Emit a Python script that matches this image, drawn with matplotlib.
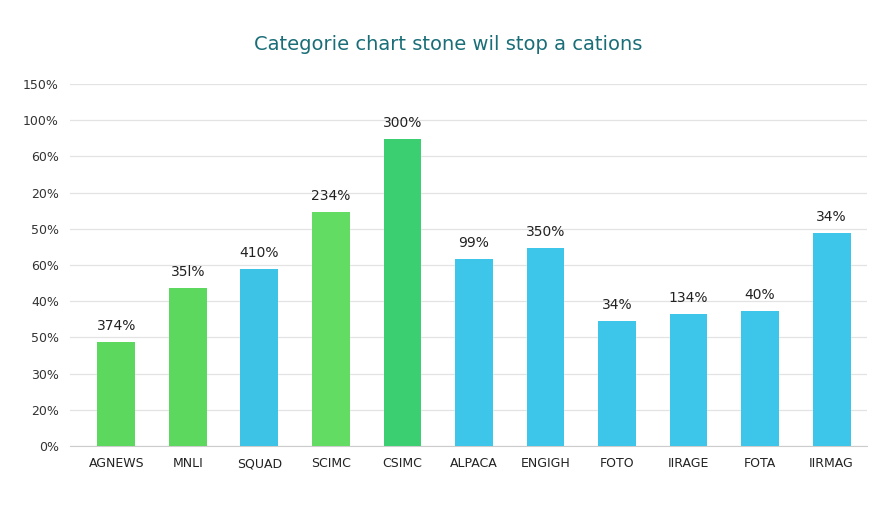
import matplotlib.pyplot as plt
import numpy as np

categories = ["AGNEWS", "MNLI", "SQUAD", "SCIMC", "CSIMC", "ALPACA", "ENGIGH", "FOTO", "IIRAGE", "FOTA", "IIRMAG"]
values = [2.87, 4.36, 4.89, 6.46, 8.48, 5.17, 5.47, 3.45, 3.65, 3.73, 5.88]
bar_labels = ["374%", "35l%", "410%", "234%", "300%", "99%", "350%", "34%", "134%", "40%", "34%"]
tick_labels = ["0%", "20%", "30%", "50%", "40%", "60%", "50%", "20%", "60%", "100%", "150%"]
colors = ["#5cd85f", "#5cd85f", "#3cc3e6", "#62dc62", "#3ccf72",
          "#3ec6ea", "#3ec6ea", "#3ec6ea", "#3ec6ea", "#3ec6ea", "#3ec6ea"]

fig = plt.figure(figsize=(8.96, 5.12), dpi=100)
ax = fig.add_axes([0.078, 0.129, 0.89, 0.707])
x = np.arange(len(categories))
ax.bar(x, values, width=0.53, color=colors, zorder=3)
for xi, v, lab in zip(x, values, bar_labels):
    ax.text(xi, v + 0.25, lab, ha="center", va="bottom", fontsize=10, color="#222222")

ax.set_ylim(0, 10)
ax.set_xlim(-0.65, len(categories) - 0.5)
ax.set_yticks(range(len(tick_labels)))
ax.set_yticklabels(tick_labels, fontsize=9, color="#333333")
ax.set_xticks(x)
ax.set_xticklabels(categories, fontsize=9, color="#222222")
ax.tick_params(length=0, pad=8)
ax.grid(axis="y", color="#e3e3e3", linewidth=0.9, zorder=0)
for s in ["top", "right", "left"]:
    ax.spines[s].set_visible(False)
ax.spines["bottom"].set_color("#cccccc")

fig.text(0.5, 0.914, "Categorie chart stone wil stop a cations", ha="center", va="center",
         fontsize=14, color="#1a6e78")
fig.savefig("out.png", dpi=100)
